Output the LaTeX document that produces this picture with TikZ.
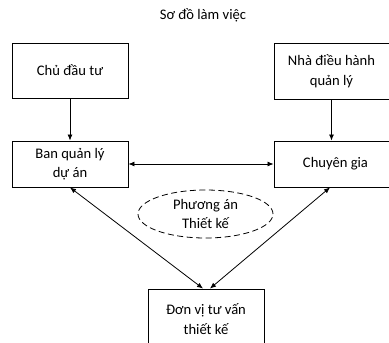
\documentclass[tikz,border=0pt]{standalone}
\usepackage{fontspec}
\setmainfont{Carlito}
\usetikzlibrary{arrows.meta,shapes.geometric}
\begin{document}
\begin{tikzpicture}[x=1pt,y=-1pt,
  every node/.style={font=\fontsize{14.6}{19.5}\selectfont, inner sep=0pt},
  box/.style={draw, line width=0.9pt, align=center, minimum width=116pt},
  conn/.style={line width=0.8pt, -{Latex[length=6pt,width=5pt]}},
  bconn/.style={line width=0.8pt, {Latex[length=6pt,width=5pt]}-{Latex[length=6pt,width=5pt]}}]
\useasboundingbox (0,0) rectangle (389,343);
\fill[white] (0,0) rectangle (389,343);
\node (title) at (203,15) {Sơ đồ làm việc};
\node[box, minimum height=55pt] (cdt) at (70,70.5) {Chủ đầu tư};
\node[box, minimum width=115pt, minimum height=56pt] (nd) at (331.5,71) {Nhà điều hành\\quản lý};
\node[box, minimum height=46pt] (bql) at (70,164) {Ban quản lý\\dự án};
\node[box, minimum width=115pt, minimum height=46pt] (cg) at (331.5,164) {\hspace*{8pt}Chuyên gia};
\node[box, minimum height=60pt] (dv) at (206,319) {Đơn vị tư vấn\\thiết kế};
\node[draw, ellipse, dashed, dash pattern=on 6pt off 3.5pt, line width=0.8pt, minimum width=135pt, minimum height=48pt, align=center] (pa) at (205.5,214) {Phương án\\Thiết kế};
\draw[conn] (cdt.south) -- (bql.north);
\draw[conn] (nd.south) -- (cg.north);
\draw[bconn] (bql.east) -- (cg.west);
\draw[bconn] (bql.south) -- ([xshift=-3pt]dv.north);
\draw[bconn] ([xshift=-1.5pt]cg.south) -- ([xshift=4pt]dv.north);
\end{tikzpicture}
\end{document}
